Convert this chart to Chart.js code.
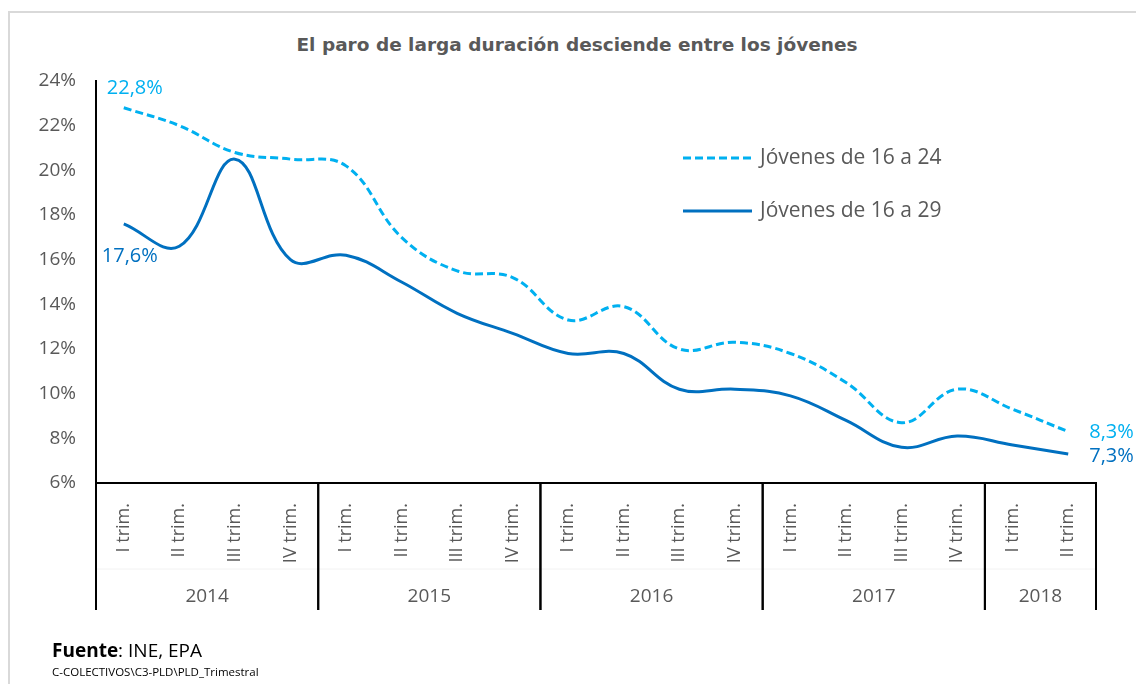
<!DOCTYPE html>
<html>
<head>
<meta charset="utf-8">
<script src="https://cdn.jsdelivr.net/npm/chart.js@4.4.1/dist/chart.umd.min.js"></script>
<style>
  html, body { margin: 0; padding: 0; background: #fff; overflow: hidden; }
  #wrap { position: relative; width: 1136px; height: 684px; }
  #frame { position: absolute; left: 8px; top: 11px; width: 1200px; height: 800px; border: 2px solid #D9D9D9; box-sizing: border-box; }
  #title { position: absolute; left: 0; width: 1154px; top: 34px; text-align: center;
    font: bold 18.5px "DejaVu Sans", sans-serif; color: #595959; }
  #src { position: absolute; left: 52px; top: 637px; font: 19px "Open Sans", sans-serif; color: #000; }
  #path { position: absolute; left: 52px; top: 664px; font: 11.5px "Open Sans", sans-serif; color: #000; }
  canvas { position: absolute; left: 0; top: 0; }
</style>
</head>
<body>
<div id="wrap">
  <div id="frame"></div>
  <div id="title">El paro de larga duración desciende entre los jóvenes</div>
  <canvas id="myChart" width="1136" height="684"></canvas>
  <div id="src"><b>Fuente</b>: INE, EPA</div>
  <div id="path">C-COLECTIVOS\C3-PLD\PLD_Trimestral</div>
</div>
<script>
const categories = [
  'I trim.', 'II trim.', 'III trim.', 'IV trim.',
  'I trim.', 'II trim.', 'III trim.', 'IV trim.',
  'I trim.', 'II trim.', 'III trim.', 'IV trim.',
  'I trim.', 'II trim.', 'III trim.', 'IV trim.',
  'I trim.', 'II trim.'
];
const years = ['2014', '2015', '2016', '2017', '2018'];
const quartersPerYear = [4, 4, 4, 4, 2];
const jovenes1624 = [22.8, 22.0, 20.8, 20.5, 20.2, 17.0, 15.5, 15.2, 13.3, 13.9, 12.0, 12.3, 11.8, 10.5, 8.7, 10.2, 9.3, 8.3];
const jovenes1629 = [17.6, 16.6, 20.5, 16.0, 16.2, 15.0, 13.6, 12.7, 11.8, 11.8, 10.2, 10.2, 9.9, 8.8, 7.6, 8.1, 7.7, 7.3];

const tickFont = '"Open Sans", sans-serif';
const grey = '#595959';

function fmt(v) {
  return v.toFixed(1).replace('.', ',') + '%';
}

// year row below the quarter labels, with separators
const yearPlugin = {
  id: 'years',
  afterDraw(chart) {
    const ctx = chart.ctx;
    const xs = chart.scales.x;
    const area = chart.chartArea;
    const n = categories.length;
    const bottom = area.bottom + 127;
    ctx.save();
    // faint line between rows
    ctx.strokeStyle = '#F2F2F2';
    ctx.lineWidth = 1;
    ctx.beginPath();
    ctx.moveTo(area.left, area.bottom + 86);
    ctx.lineTo(area.right, area.bottom + 86);
    ctx.stroke();

    ctx.strokeStyle = '#000';
    ctx.lineWidth = 2;
    ctx.fillStyle = grey;
    ctx.font = '19px ' + tickFont;
    ctx.textAlign = 'center';
    ctx.textBaseline = 'middle';
    let s = 0;
    years.forEach((yr, k) => {
      const e = s + quartersPerYear[k];
      const left = s === 0 ? area.left : (xs.getPixelForValue(s - 1) + xs.getPixelForValue(s)) / 2;
      const right = e === n ? area.right : (xs.getPixelForValue(e - 1) + xs.getPixelForValue(e)) / 2;
      [left, right].forEach(px => {
        ctx.beginPath();
        ctx.moveTo(px, area.bottom);
        ctx.lineTo(px, bottom);
        ctx.stroke();
      });
      ctx.fillText(yr, (left + right) / 2, area.bottom + 114);
      s = e;
    });
    ctx.restore();
  }
};

// value labels on the first and last point
const endLabels = {
  id: 'endLabels',
  afterDatasetsDraw(chart, args, opts) {
    const ctx = chart.ctx;
    ctx.save();
    ctx.font = '20px ' + tickFont;
    ctx.textBaseline = 'middle';
    ctx.textAlign = 'left';
    chart.data.datasets.forEach((ds, i) => {
      const meta = chart.getDatasetMeta(i);
      const first = meta.data[0];
      const last = meta.data[meta.data.length - 1];
      const o = opts.offsets[i];
      ctx.fillStyle = ds.borderColor;
      ctx.fillText(fmt(ds.data[0]), first.x + o.first[0], first.y + o.first[1]);
      ctx.fillText(fmt(ds.data[ds.data.length - 1]), last.x + o.last[0], last.y + o.last[1]);
    });
    ctx.restore();
  }
};

// legend inside the plot
const innerLegend = {
  id: 'innerLegend',
  afterDraw(chart) {
    const ctx = chart.ctx;
    const area = chart.chartArea;
    ctx.save();
    ctx.font = '21px ' + tickFont;
    ctx.textBaseline = 'middle';
    ctx.textAlign = 'left';
    chart.data.datasets.forEach((ds, i) => {
      const y = area.top + 77 + i * 53;
      const x0 = area.left + 587;
      ctx.strokeStyle = ds.borderColor;
      ctx.lineWidth = 3;
      ctx.setLineDash(ds.borderDash || []);
      ctx.beginPath();
      ctx.moveTo(x0, y);
      ctx.lineTo(x0 + 69, y);
      ctx.stroke();
      ctx.setLineDash([]);
      ctx.fillStyle = grey;
      ctx.fillText(ds.label, x0 + 77, y);
    });
    ctx.restore();
  }
};

new Chart(document.getElementById('myChart'), {
  type: 'line',
  data: {
    labels: categories,
    datasets: [{
      label: 'Jóvenes de 16 a 24',
      data: jovenes1624,
      borderColor: '#00B0F0',
      borderWidth: 3,
      borderDash: [8, 4],
      pointRadius: 0,
      tension: 0.4,
      fill: false
    }, {
      label: 'Jóvenes de 16 a 29',
      data: jovenes1629,
      borderColor: '#0070C0',
      borderWidth: 3,
      pointRadius: 0,
      tension: 0.4,
      fill: false
    }]
  },
  plugins: [yearPlugin, endLabels, innerLegend],
  options: {
    responsive: false,
    animation: false,
    layout: { padding: { left: 0, right: 40, top: 81, bottom: 0 } },
    plugins: {
      legend: { display: false },
      title: { display: false },
      tooltip: { enabled: false },
      endLabels: {
        offsets: [
          { first: [-17, -20], last: [21, 1] },
          { first: [-22, 32], last: [21, 2] }
        ]
      }
    },
    scales: {
      x: {
        offset: true,
        grid: { display: false },
        border: { display: true, color: '#000', width: 2 },
        ticks: {
          autoSkip: false,
          maxRotation: 90,
          minRotation: 90,
          padding: 12,
          color: grey,
          font: { family: tickFont, size: 18 }
        },
        afterFit: (scale) => { scale.height = 201; }
      },
      y: {
        min: 6,
        max: 24,
        grid: { display: false },
        border: { display: true, color: '#000', width: 2 },
        ticks: {
          stepSize: 2,
          padding: 12,
          color: grey,
          font: { family: tickFont, size: 19 },
          callback: (v) => v + '%'
        },
        afterFit: (scale) => { scale.width = 96; }
      }
    }
  }
});
</script>
</body>
</html>
